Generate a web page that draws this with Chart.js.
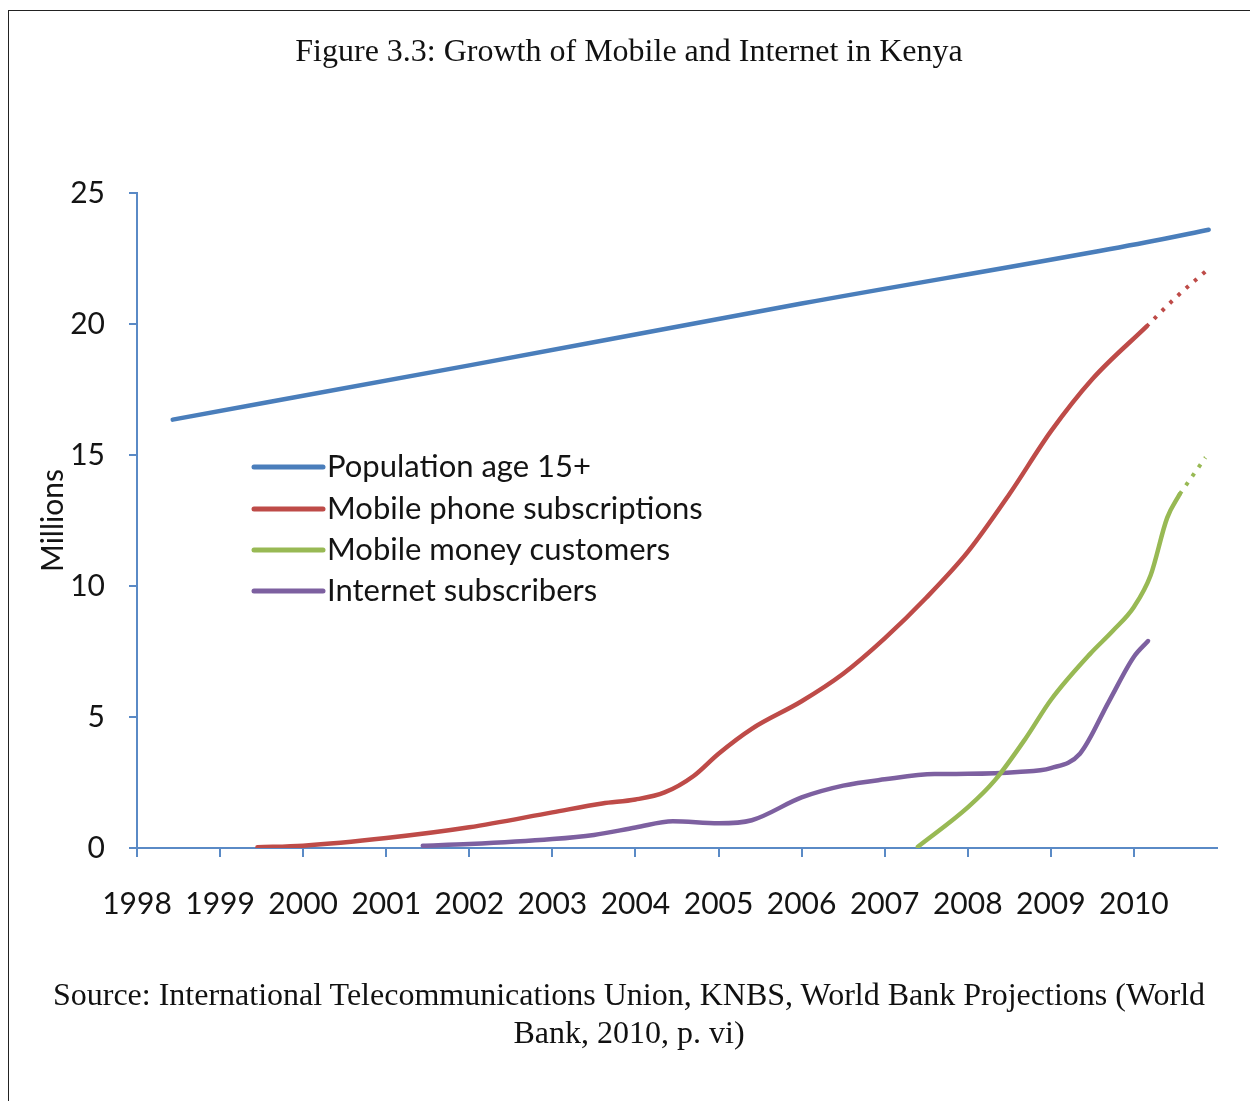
<!DOCTYPE html>
<html>
<head>
<meta charset="utf-8">
<script src="https://cdn.jsdelivr.net/npm/chart.js@4/dist/chart.umd.min.js"></script>
<style>
  html, body { margin: 0; padding: 0; background: #fff; }
  #page { position: relative; width: 1250px; height: 1101px; overflow: hidden; }
  #frame { position: absolute; left: 8px; top: 10px; width: 1260px; height: 1110px;
           border-top: 1.5px solid #222; border-left: 1.5px solid #222; }
  #chart { position: absolute; left: 0; top: 0; }
  .cap { position: absolute; left: 8px; right: 0; text-align: center; white-space: nowrap;
         font-family: "Liberation Serif", "Times New Roman", serif; font-size: 32px; color: #111; }
  #title { top: 32px; }
  #source { top: 975px; line-height: 38px; }
</style>
</head>
<body>
<div id="page">
  <div id="frame"></div>
  <canvas id="chart" width="1250" height="1101"></canvas>
  <div id="title" class="cap">Figure 3.3: Growth of Mobile and Internet in Kenya</div>
  <div id="source" class="cap">Source: International Telecommunications Union, KNBS, World Bank Projections (World<br>Bank, 2010, p. vi)</div>
</div>
<script>
'use strict';

// years on the x axis and the y ticks (millions)
const yearLabels = [1998, 1999, 2000, 2001, 2002, 2003, 2004, 2005, 2006, 2007, 2008, 2009, 2010];
const yTicks = [0, 5, 10, 15, 20, 25];

const seriesNames = ['Population age 15+', 'Mobile phone subscriptions', 'Mobile money customers', 'Internet subscribers'];
const seriesColors = ['#4A7EBB', '#BE4B48', '#98B954', '#7D60A0'];

// population age 15+
const popX = [1998.43, 2002.0, 2006.0, 2010.15, 2010.9];
const popY = [16.35, 18.42, 20.78, 23.12, 23.6];

// mobile phone subscriptions
const mobileX = [1999.45, 2000.0, 2001.0, 2002.0, 2003.0, 2003.6, 2004.0, 2004.35, 2004.7, 2005.0, 2005.4, 2006.0, 2006.5, 2007.0, 2007.5, 2008.0, 2008.5, 2009.0, 2009.5, 2010.15];
const mobileY = [0.03, 0.09, 0.38, 0.79, 1.36, 1.7, 1.85, 2.12, 2.75, 3.6, 4.55, 5.6, 6.65, 8.0, 9.55, 11.3, 13.5, 15.9, 17.9, 19.9];
const mobileProjX = [2010.15, 2010.5, 2010.86];
const mobileProjY = [19.9, 21.0, 22.0];

// mobile money customers
const moneyX = [2007.4, 2008.0, 2008.33, 2008.7, 2009.0, 2009.47, 2009.75, 2010.0, 2010.2, 2010.4, 2010.55];
const moneyY = [0.05, 1.55, 2.6, 4.2, 5.65, 7.4, 8.3, 9.2, 10.4, 12.6, 13.5];
const moneyProjX = [2010.55, 2010.86];
const moneyProjY = [13.5, 14.9];

// internet subscribers
const netX = [2001.44, 2002.0, 2003.0, 2003.5, 2004.0, 2004.45, 2005.0, 2005.4, 2006.0, 2006.5, 2007.0, 2007.6, 2008.0, 2008.6, 2009.0, 2009.35, 2009.7, 2010.0, 2010.17];
const netY = [0.09, 0.15, 0.34, 0.5, 0.78, 1.02, 0.94, 1.06, 1.93, 2.38, 2.62, 2.82, 2.83, 2.9, 3.05, 3.6, 5.6, 7.3, 7.9];

const axisBlue = '#5A8AC6';
const textColor = '#141414';
const uiFont = 'Lato, Calibri, "Noto Sans", sans-serif';

const pts = (xs, ys) => xs.map((x, i) => ({ x: x, y: ys[i] }));

function line(label, color, xs, ys, projected) {
  return {
    label: label,
    data: pts(xs, ys),
    borderColor: color,
    backgroundColor: color,
    borderWidth: projected ? 4 : 4.5,
    borderDash: projected ? [3.5, 7.5] : [],
    borderCapStyle: projected ? 'butt' : 'round',
    pointRadius: 0,
    cubicInterpolationMode: 'monotone',
    projected: !!projected
  };
}

// legend drawn inside the plot, left side
const insideLegend = {
  id: 'insideLegend',
  afterDatasetsDraw(chart) {
    const ctx = chart.ctx;
    const rows = [467, 509, 550, 591];
    ctx.save();
    ctx.font = '31px ' + uiFont;
    ctx.textBaseline = 'middle';
    ctx.textAlign = 'left';
    seriesNames.forEach((name, i) => {
      ctx.strokeStyle = seriesColors[i];
      ctx.lineWidth = 5;
      ctx.lineCap = 'round';
      ctx.beginPath();
      ctx.moveTo(254, rows[i]);
      ctx.lineTo(323, rows[i]);
      ctx.stroke();
      ctx.fillStyle = textColor;
      ctx.fillText(name, 327, rows[i]);
    });
    ctx.restore();
  }
};

new Chart(document.getElementById('chart'), {
  type: 'line',
  data: {
    datasets: [
      line(seriesNames[0], seriesColors[0], popX, popY),
      line(seriesNames[1], seriesColors[1], mobileX, mobileY),
      line(seriesNames[1], seriesColors[1], mobileProjX, mobileProjY, true),
      line(seriesNames[2], seriesColors[2], moneyX, moneyY),
      line(seriesNames[2], seriesColors[2], moneyProjX, moneyProjY, true),
      line(seriesNames[3], seriesColors[3], netX, netY)
    ]
  },
  options: {
    responsive: false,
    animation: false,
    layout: { padding: { left: 0, top: 193, right: 33, bottom: 1101 - 848 - 90 } },
    plugins: { legend: { display: false }, tooltip: { enabled: false } },
    scales: {
      x: {
        type: 'linear',
        min: yearLabels[0],
        max: yearLabels[yearLabels.length - 1] + 1,
        afterFit(scale) { scale.height = 90; },
        afterBuildTicks(scale) {
          scale.ticks = yearLabels.concat([yearLabels[yearLabels.length - 1] + 1]).map(v => ({ value: v }));
        },
        ticks: {
          callback: v => (yearLabels.includes(v) ? String(v) : ''),
          font: { family: uiFont, size: 30 },
          color: textColor,
          padding: 29,
          maxRotation: 0,
          autoSkip: false
        },
        grid: {
          drawOnChartArea: false,
          tickLength: 9,
          lineWidth: 2,
          color: ctx => (ctx.tick && yearLabels.includes(ctx.tick.value) ? axisBlue : 'rgba(0,0,0,0)')
        },
        border: { color: axisBlue, width: 2 }
      },
      y: {
        min: yTicks[0],
        max: yTicks[yTicks.length - 1],
        afterFit(scale) { scale.width = 137; },
        afterBuildTicks(scale) { scale.ticks = yTicks.map(v => ({ value: v })); },
        ticks: {
          font: { family: uiFont, size: 30 },
          color: textColor,
          padding: 24
        },
        grid: { drawOnChartArea: false, tickLength: 8, lineWidth: 2, color: axisBlue },
        border: { color: axisBlue, width: 2 },
        title: {
          display: true,
          text: 'Millions',
          font: { family: uiFont, size: 30 },
          color: textColor,
          padding: { top: 35, bottom: 0 }
        }
      }
    }
  },
  plugins: [insideLegend]
});
</script>
</body>
</html>
